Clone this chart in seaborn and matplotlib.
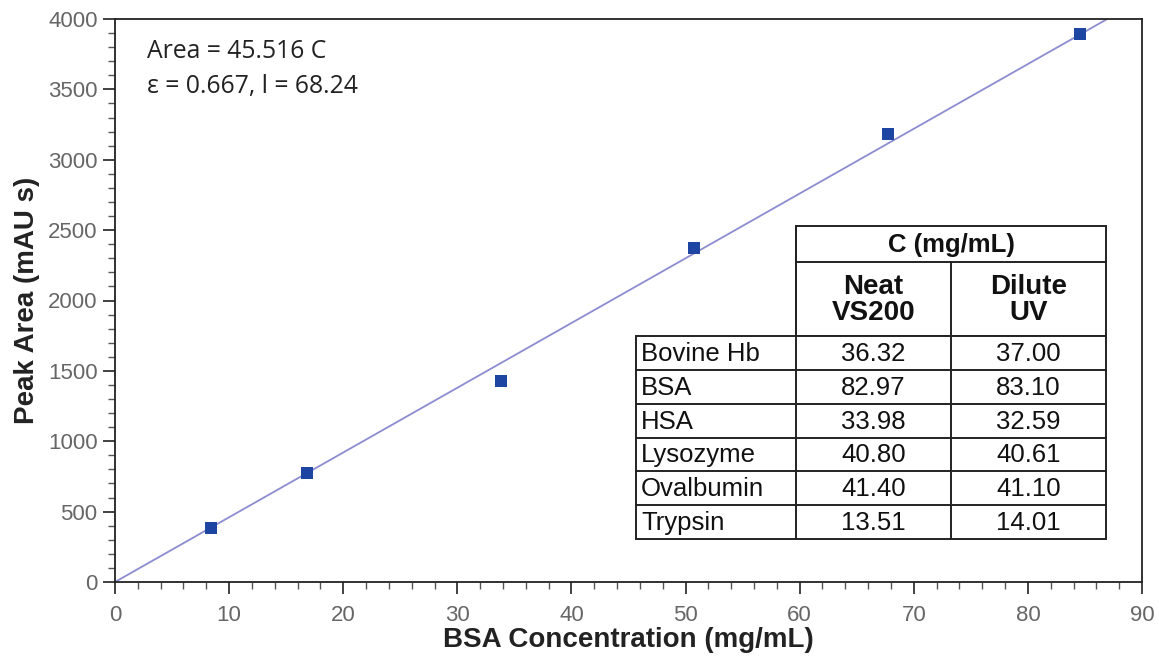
import numpy as np
import pandas as pd
import matplotlib
matplotlib.use("Agg")
import matplotlib.pyplot as plt
import seaborn as sns
from matplotlib.ticker import MultipleLocator
from matplotlib.patches import Rectangle

# ---- data ----
bsa_conc = [8.4, 16.8, 33.8, 50.7, 67.7, 84.6]
peak_area = [385, 775, 1430, 2375, 3185, 3895]
fit_slope = 46.0          # slope of the drawn line
fit_x = [0, 90]

proteins = ["Bovine Hb", "BSA", "HSA", "Lysozyme", "Ovalbumin", "Trypsin"]
neat_vs200 = ["36.32", "82.97", "33.98", "40.80", "41.40", "13.51"]
dilute_uv = ["37.00", "83.10", "32.59", "40.61", "41.10", "14.01"]

eq_line1 = "Area = 45.516 C"
eq_line2 = "\u03b5 = 0.667, l = 68.24"

sns.set_theme(style="white")
plt.rcParams["font.family"] = ["Liberation Sans", "DejaVu Sans"]

W, H = 1159, 663
fig = plt.figure(figsize=(W / 100, H / 100), dpi=100)
ax = fig.add_axes([115 / W, 1 - 582 / H, (1142 - 115) / W, (582 - 19) / H])

df = pd.DataFrame({"x": bsa_conc, "y": peak_area})
fit_df = pd.DataFrame({"x": fit_x, "y": [fit_slope * v for v in fit_x]})

sns.lineplot(data=fit_df, x="x", y="y", ax=ax, color="#8c8cd0", linewidth=1.3, zorder=2)
sns.scatterplot(data=df, x="x", y="y", ax=ax, marker="s", s=80, color="#1f45a3",
                edgecolor="#1f45a3", linewidth=0, zorder=3)

ax.set_xlim(0, 90)
ax.set_ylim(0, 4000)
ax.xaxis.set_major_locator(MultipleLocator(10))
ax.xaxis.set_minor_locator(MultipleLocator(2))
ax.yaxis.set_major_locator(MultipleLocator(500))
ax.yaxis.set_minor_locator(MultipleLocator(100))
ax.tick_params(axis="both", which="major", direction="out", length=8.5, width=1.3,
               color="#333333", labelsize=16, labelcolor="#666666",
               bottom=True, left=True)
ax.tick_params(axis="x", which="major", pad=8)
ax.tick_params(axis="y", which="major", pad=4)
ax.tick_params(axis="both", which="minor", direction="out", length=5, width=1,
               color="#555555", bottom=True, left=True)
for sp in ax.spines.values():
    sp.set_color("#222222")
    sp.set_linewidth(1.3)

ax.set_xlabel("BSA Concentration (mg/mL)", fontsize=20, fontweight="bold",
              color="#222222", labelpad=1)
ax.set_ylabel("Peak Area (mAU s)", fontsize=20, fontweight="bold",
              color="#222222", labelpad=6)

# overlay in pixel coordinates for annotation and table
ov = fig.add_axes([0, 0, 1, 1], facecolor="none")
ov.set_xlim(0, W)
ov.set_ylim(H, 0)
ov.axis("off")

ov.text(147, 51, eq_line1, fontsize=17.8, family=["Open Sans", "DejaVu Sans"],
        color="#222222", va="center", ha="left")
ov.text(147, 87, eq_line2, fontsize=17.8, family=["Open Sans", "DejaVu Sans"],
        color="#222222", va="center", ha="left")

# table geometry (pixels)
x0, x1, x2, x3 = 636, 796, 951, 1106
yh0, yh1, yh2 = 226, 262, 336
row_h = (539 - 336) / 6
lw = 1.4
lc = "#222222"

ov.add_patch(Rectangle((x1, yh0), x3 - x1, yh2 - yh0, fill=True, facecolor="white",
                       edgecolor=lc, linewidth=lw))
ov.add_patch(Rectangle((x0, yh2), x3 - x0, row_h * 6, fill=True, facecolor="white",
                       edgecolor=lc, linewidth=lw))
ov.plot([x1, x3], [yh1, yh1], color=lc, lw=lw)
ov.plot([x1, x1], [yh0, yh2 + 6 * row_h], color=lc, lw=lw)
ov.plot([x2, x2], [yh1, yh2 + 6 * row_h], color=lc, lw=lw)
for i in range(1, 6):
    ov.plot([x0, x3], [yh2 + i * row_h] * 2, color=lc, lw=lw)

ov.text((x1 + x3) / 2, (yh0 + yh1) / 2 + 1, "C (mg/mL)", ha="center", va="center",
        fontsize=18.5, fontweight="bold", color="#111111")
ov.text((x1 + x2) / 2, (yh1 + yh2) / 2 + 1, "Neat\nVS200", ha="center", va="center",
        fontsize=20, fontweight="bold", color="#111111", linespacing=1.05)
ov.text((x2 + x3) / 2, (yh1 + yh2) / 2 + 1, "Dilute\nUV", ha="center", va="center",
        fontsize=20, fontweight="bold", color="#111111", linespacing=1.05)

for i, (p, a, b) in enumerate(zip(proteins, neat_vs200, dilute_uv)):
    yc = yh2 + (i + 0.5) * row_h + 1
    ov.text(x0 + 5, yc, p, ha="left", va="center", fontsize=18.5, color="#111111")
    ov.text((x1 + x2) / 2, yc, a, ha="center", va="center", fontsize=18.5, color="#111111")
    ov.text((x2 + x3) / 2, yc, b, ha="center", va="center", fontsize=18.5, color="#111111")

fig.savefig("out.png", dpi=100)
